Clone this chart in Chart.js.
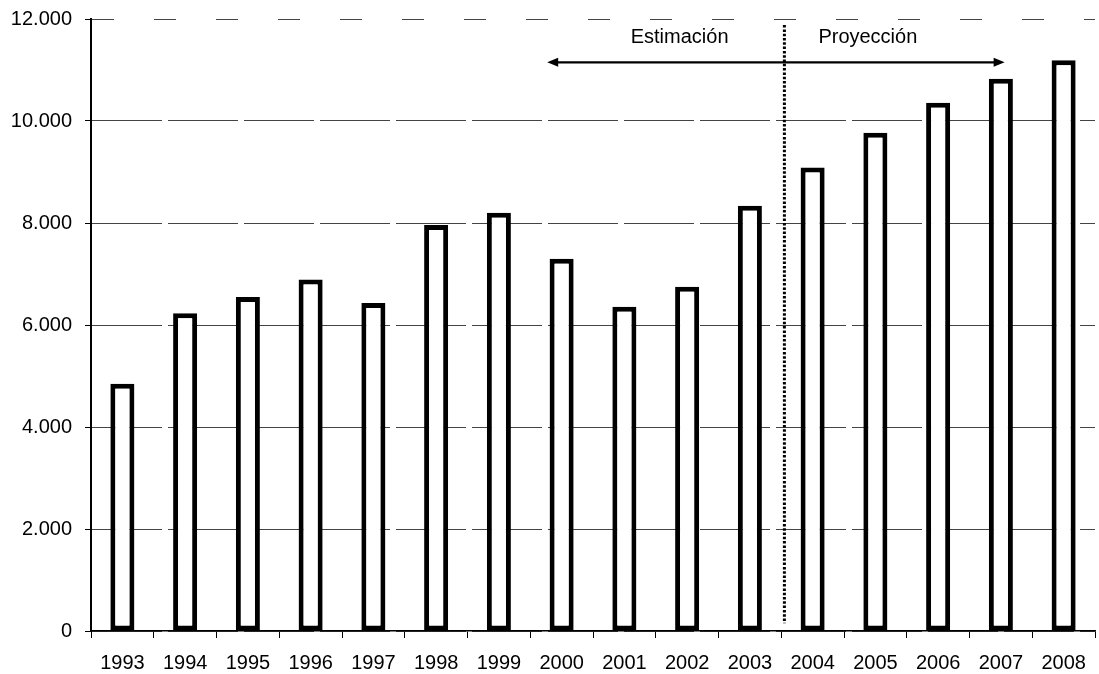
<!DOCTYPE html>
<html>
<head>
<meta charset="utf-8">
<script src="https://cdn.jsdelivr.net/npm/chart.js@4"></script>
<style>
  body { margin: 0; background: #fff; }
</style>
</head>
<body>
<canvas id="grafico" width="1099" height="674"></canvas>
<script>
let anios = ['1993', '1994', '1995', '1996', '1997', '1998', '1999', '2000',
             '2001', '2002', '2003', '2004', '2005', '2006', '2007', '2008'];
let valores = [4850, 6230, 6550, 6890, 6430, 7960, 8200, 7300,
               6360, 6750, 8340, 9090, 9770, 10360, 10830, 11190];
let ticksY = [0, 2000, 4000, 6000, 8000, 10000, 12000];
let textos = ['Estimación', 'Proyección'];

function miles(v) {
    return String(v).replace(/\B(?=(\d{3})+(?!\d))/g, '.');
}

// linea punteada, flecha y textos de estimacion / proyeccion
const marcas = {
    id: 'marcas',
    afterDatasetsDraw(chart) {
        const ctx = chart.ctx;
        const x = chart.scales.x;
        const y = chart.scales.y;
        ctx.save();

        // separador punteado entre 2003 y 2004
        const xs = x.getPixelForValue(10.55);
        ctx.strokeStyle = '#000';
        ctx.lineWidth = 3;
        ctx.setLineDash([2.5, 1.8]);
        ctx.beginPath();
        ctx.moveTo(xs, y.getPixelForValue(11880));
        ctx.lineTo(xs, y.getPixelForValue(150));
        ctx.stroke();
        ctx.setLineDash([]);

        // flecha doble
        const ya = y.getPixelForValue(11150);
        const x1 = x.getPixelForValue(6.77);
        const x2 = x.getPixelForValue(14.06);
        ctx.lineWidth = 2.2;
        ctx.beginPath();
        ctx.moveTo(x1 + 8, ya);
        ctx.lineTo(x2 - 8, ya);
        ctx.stroke();
        ctx.fillStyle = '#000';
        ctx.beginPath();
        ctx.moveTo(x1, ya);
        ctx.lineTo(x1 + 11, ya - 4.5);
        ctx.lineTo(x1 + 11, ya + 4.5);
        ctx.closePath();
        ctx.fill();
        ctx.beginPath();
        ctx.moveTo(x2, ya);
        ctx.lineTo(x2 - 11, ya - 4.5);
        ctx.lineTo(x2 - 11, ya + 4.5);
        ctx.closePath();
        ctx.fill();

        // textos
        ctx.font = '20px "Liberation Sans", Arial, sans-serif';
        ctx.textAlign = 'center';
        ctx.textBaseline = 'middle';
        const yt = y.getPixelForValue(11630);
        ctx.fillText(textos[0], x.getPixelForValue(8.88), yt);
        ctx.fillText(textos[1], x.getPixelForValue(11.88), yt);
        ctx.restore();
    }
};

new Chart(document.getElementById('grafico'), {
    type: 'bar',
    data: {
        labels: anios,
        datasets: [{
            data: valores,
            backgroundColor: '#ffffff',
            borderColor: '#000000',
            borderWidth: 5,
            borderSkipped: false,
            categoryPercentage: 1,
            barPercentage: 0.383
        }]
    },
    options: {
        responsive: false,
        animation: false,
        layout: { padding: { top: 19, right: 4, left: 0, bottom: 0 } },
        plugins: {
            legend: { display: false },
            tooltip: { enabled: false }
        },
        scales: {
            x: {
                afterFit: function (scale) {
                    scale.height = 43;
                    scale.paddingLeft = 0;
                    scale.paddingRight = 0;
                },
                grid: {
                    display: true,
                    offset: true,
                    drawOnChartArea: false,
                    drawTicks: true,
                    tickLength: 7,
                    tickColor: '#000',
                    tickWidth: 1
                },
                border: { display: true, color: '#000', width: 1.5 },
                ticks: {
                    color: '#000',
                    padding: 13,
                    maxRotation: 0,
                    autoSkip: false,
                    font: { family: '"Liberation Sans", Arial, sans-serif', size: 20 }
                }
            },
            y: {
                min: 0,
                max: 12000,
                afterFit: function (scale) {
                    scale.width = 91;
                    scale.paddingTop = 0;
                    scale.paddingBottom = 0;
                },
                afterBuildTicks: function (scale) {
                    scale.ticks = ticksY.map(function (v) { return { value: v }; });
                },
                grid: {
                    color: '#444',
                    lineWidth: 1,
                    drawTicks: true,
                    tickLength: 6,
                    tickColor: '#000'
                },
                border: {
                    display: true,
                    color: '#000',
                    width: 2,
                    dash: function (c) {
                        return c.tick && c.tick.value === 12000 ? [22, 40] : [70, 6];
                    }
                },
                ticks: {
                    color: '#000',
                    padding: 13,
                    font: { family: '"Liberation Sans", Arial, sans-serif', size: 20 },
                    callback: function (v) { return miles(v); }
                }
            }
        }
    },
    plugins: [marcas]
});
</script>
</body>
</html>
